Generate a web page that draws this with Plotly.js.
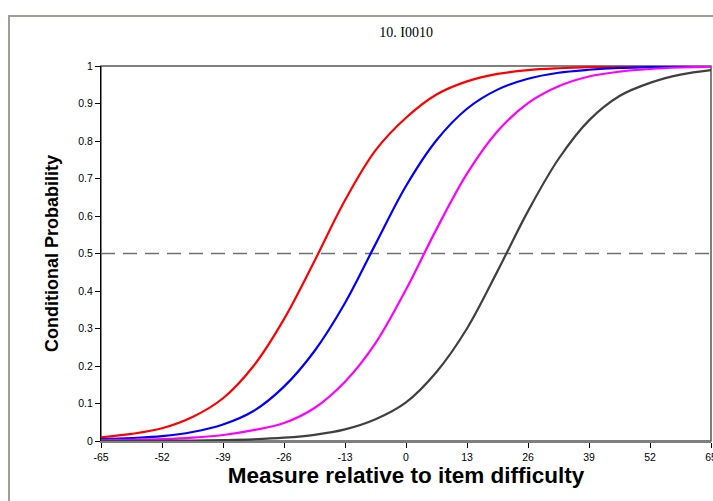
<!DOCTYPE html>
<html>
<head>
<meta charset="utf-8">
<script src="https://cdn.plot.ly/plotly-3.0.1.min.js"></script>
<style>
  html, body { margin: 0; padding: 0; background: #fff; }
  #wrap { position: relative; width: 713px; height: 501px; overflow: hidden; }
  #frame { position: absolute; left: 8px; top: 15px; width: 713px; height: 501px;
           border-left: 2px solid #a39e95; border-top: 2px solid #a39e95; pointer-events: none; }
  #chart { position: absolute; left: 0; top: 0; width: 713px; height: 501px; }
</style>
</head>
<body>
<div id="wrap">
  <div id="chart"></div>
  <div id="frame"></div>
</div>
<script>
// Measure relative to item difficulty (x values)
const measure = [-65, -58.5, -52, -45.5, -39, -32.5, -26, -19.5, -13, -6.5, 0,
                 6.5, 13, 19.5, 26, 32.5, 39, 45.5, 52, 58.5, 65];

// Conditional probability curves
const redCurve = [0.010, 0.019, 0.034, 0.064, 0.114, 0.200, 0.325, 0.480, 0.642, 0.775, 0.862,
                  0.924, 0.959, 0.979, 0.989, 0.994, 0.997, 0.998, 0.999, 0.9995, 0.9997];
const blueCurve = [0.005, 0.008, 0.013, 0.024, 0.044, 0.080, 0.145, 0.240, 0.368, 0.525, 0.680,
                   0.802, 0.886, 0.937, 0.966, 0.982, 0.990, 0.995, 0.997, 0.9986, 0.9993];
const magentaCurve = [0.002, 0.003, 0.005, 0.009, 0.016, 0.029, 0.048, 0.088, 0.158, 0.261, 0.404,
                      0.565, 0.713, 0.826, 0.901, 0.946, 0.972, 0.985, 0.992, 0.996, 0.998];
const grayCurve = [0.0003, 0.0004, 0.0007, 0.0013, 0.0025, 0.0046, 0.0088, 0.0165, 0.031, 0.058, 0.103,
                   0.184, 0.300, 0.453, 0.613, 0.752, 0.855, 0.920, 0.955, 0.977, 0.989];

const halfLevel = 0.5;
const xTicks = [-65, -52, -39, -26, -13, 0, 13, 26, 39, 52, 65];
const yTicks = [0, 0.1, 0.2, 0.3, 0.4, 0.5, 0.6, 0.7, 0.8, 0.9, 1];

const series = [
  { y: redCurve, color: '#ff0000' },
  { y: blueCurve, color: '#0000ff' },
  { y: magentaCurve, color: '#ff00ff' },
  { y: grayCurve, color: '#404040' }
];

const traces = series.map(s => ({
  x: measure, y: s.y, type: 'scatter', mode: 'lines',
  line: { color: s.color, width: 2.2, shape: 'spline', smoothing: 1 },
  hoverinfo: 'x+y', showlegend: false
}));

const layout = {
  width: 713, height: 501,
  margin: { l: 101, r: 2, t: 66, b: 60 },
  paper_bgcolor: '#ffffff', plot_bgcolor: '#ffffff',
  title: { text: '10. I0010', x: 0.5696, xanchor: 'center', y: 0.936, yanchor: 'middle',
           font: { family: 'Liberation Serif, DejaVu Serif, serif', size: 14, color: '#000' } },
  xaxis: {
    range: [-65, 65], tickvals: xTicks, ticktext: xTicks.map(String),
    showgrid: false, zeroline: false, ticklabeloverflow: 'allow',
    showline: true, linecolor: '#7f7f7f', linewidth: 2,
    ticks: 'outside', ticklen: 5, tickcolor: '#000', tickwidth: 1,
    tickfont: { family: 'Liberation Sans, Arial, sans-serif', size: 10.5, color: '#000' },
    title: { text: 'Measure relative to item difficulty', standoff: 5,
             font: { family: 'Liberation Sans, Arial, sans-serif', size: 22.5, color: '#000', weight: 'bold' } }
  },
  yaxis: {
    range: [0, 1], tickvals: yTicks, ticktext: yTicks.map(String),
    showgrid: false, zeroline: false,
    showline: true, linecolor: '#000', linewidth: 1,
    ticks: 'outside', ticklen: 5, tickcolor: '#000', tickwidth: 1,
    tickfont: { family: 'Liberation Sans, Arial, sans-serif', size: 10.5, color: '#000' },
    title: { text: 'Conditional Probability', standoff: 14,
             font: { family: 'Liberation Sans Narrow, Arial Narrow, Liberation Sans, sans-serif', size: 18, color: '#000', weight: 'bold' } }
  },
  shapes: [
    { type: 'rect', xref: 'paper', yref: 'paper', x0: 0, x1: 1, y0: 0, y1: 1,
      line: { color: '#555555', width: 1.5 }, layer: 'below' },
    { type: 'line', xref: 'paper', yref: 'y', x0: 0, x1: 1, y0: halfLevel, y1: halfLevel,
      line: { color: '#707070', width: 1.3, dash: '14px,8px' }, layer: 'below' }
  ]
};

Plotly.newPlot('chart', traces, layout, { displayModeBar: false, staticPlot: true });
</script>
</body>
</html>
